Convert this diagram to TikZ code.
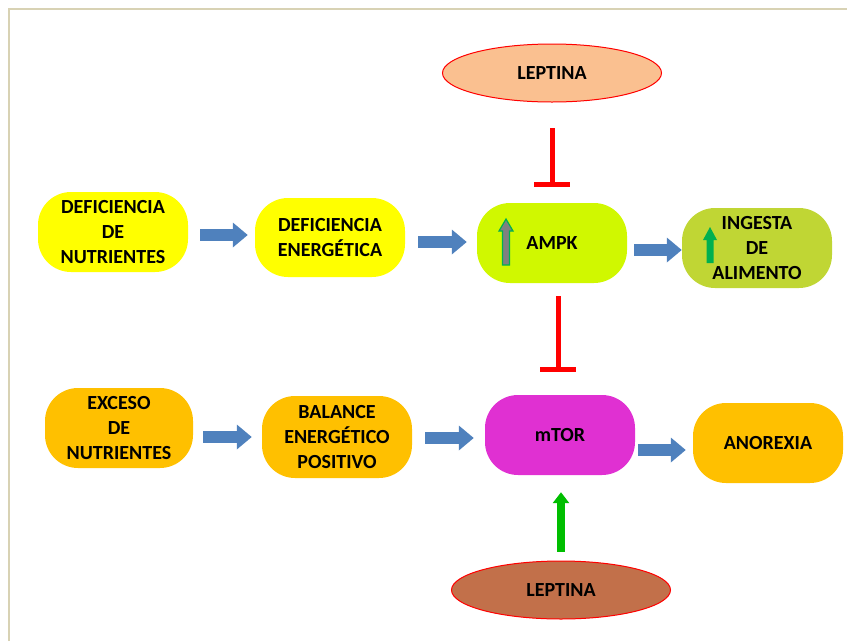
\documentclass[tikz,border=0pt]{standalone}
\usepackage{fontspec}
\setmainfont{Carlito}
\usetikzlibrary{shapes.geometric,arrows.meta}
\definecolor{framec}{RGB}{216,210,180}
\definecolor{yel}{RGB}{255,255,0}
\definecolor{ampkc}{RGB}{208,248,0}
\definecolor{ingc}{RGB}{192,214,52}
\definecolor{orc}{RGB}{255,192,0}
\definecolor{mtorc}{RGB}{224,48,210}
\definecolor{lepa}{RGB}{250,192,144}
\definecolor{lepb}{RGB}{194,112,74}
\definecolor{bluec}{RGB}{79,129,189}
\definecolor{inhc}{RGB}{255,0,0}
\definecolor{grc}{RGB}{0,190,0}
\definecolor{grb}{RGB}{0,176,80}
\begin{document}
\begin{tikzpicture}[x=1pt,y=-1pt,
  txt/.style={font=\bfseries\fontsize{20}{25}\selectfont, align=center, text=black},
  box/.style={txt, rounded corners=33pt, minimum width=150pt, minimum height=80pt, inner sep=0pt},
  lep/.style={txt, ellipse, draw=inhc, line width=1pt, minimum width=219pt, minimum height=58pt, inner sep=0pt},
  barrow/.style={draw=bluec, line width=12pt, -{Triangle[length=15pt,width=24pt]}},
  inhib/.style={draw=inhc, line width=5pt},
  garrow/.style={draw=grc, line width=8pt, -{Triangle[length=11pt,width=16pt]}}
]
\useasboundingbox (0,0) rectangle (847,641);
\draw[framec, line width=2pt] (9,641) -- (9,9) -- (847,9);

% nodes
\node[lep, fill=lepa] (lep1) at (552,73) {LEPTINA};
\node[lep, fill=lepb] (lep2) at (561,590) {LEPTINA};

\node[box, fill=yel] (d1) at (113,232) {DEFICIENCIA\\DE\\NUTRIENTES};
\node[box, fill=yel, minimum height=79pt] (d2) at (330,237.5) {DEFICIENCIA\\ENERGÉTICA};
\node[box, fill=ampkc] (ampk) at (552,243) {AMPK};
\node[box, fill=ingc] (ing) at (757,248) {INGESTA\\DE\\ALIMENTO};

\node[box, fill=orc, minimum width=148pt] (e1) at (119,428) {EXCESO\\DE\\NUTRIENTES};
\node[box, fill=orc, minimum height=82pt] (bal) at (337,437) {BALANCE\\ENERGÉTICO\\POSITIVO};
\node[box, fill=mtorc] (mtor) at (560,435) {mTOR};
\node[box, fill=orc] (anor) at (768,443) {ANOREXIA};

% small up arrows inside boxes
\filldraw[fill=gray, draw=grb, line width=1.2pt]
  (506,219) -- (513,231) -- (509.5,231) -- (509.5,265) -- (502.5,265) -- (502.5,231) -- (499,231) -- cycle;
\fill[grb]
  (710,227) -- (717,240) -- (713.5,240) -- (713.5,263) -- (706.5,263) -- (706.5,240) -- (703,240) -- cycle;

% block arrows
\draw[barrow, shorten <=12pt, shorten >=7pt] (d1.east |- 0,235) -- (d2.west |- 0,235);
\draw[barrow, shorten <=13pt, shorten >=10pt] (d2.east |- 0,242) -- (ampk.west |- 0,242);
\draw[barrow, shorten <=7pt] (ampk.east |- 0,250) -- (ing.west |- 0,250);
\draw[barrow, shorten <=10pt, shorten >=10pt] (e1.east |- 0,437) -- (bal.west |- 0,437);
\draw[barrow, shorten <=13pt, shorten >=11pt] (bal.east |- 0,438) -- (mtor.west |- 0,438);
\draw[barrow, shorten <=3pt, shorten >=7pt] (mtor.east |- 0,450) -- (anor.west |- 0,450);

% inhibitions
\coordinate (i1) at (552,184);
\draw[inhib] (lep1.south |- 0,128) -- (i1);
\draw[inhib] ([xshift=-18pt]i1) -- ([xshift=18pt]i1);
\coordinate (i2) at (558,369);
\draw[inhib] (i2 |- ampk.south) ++(0,13) -- (i2);
\draw[inhib] ([xshift=-18pt]i2) -- ([xshift=18pt]i2);

% activation
\draw[garrow, shorten <=9pt, shorten >=17pt] (lep2.north) -- (lep2.north |- mtor.south);
\end{tikzpicture}
\end{document}
